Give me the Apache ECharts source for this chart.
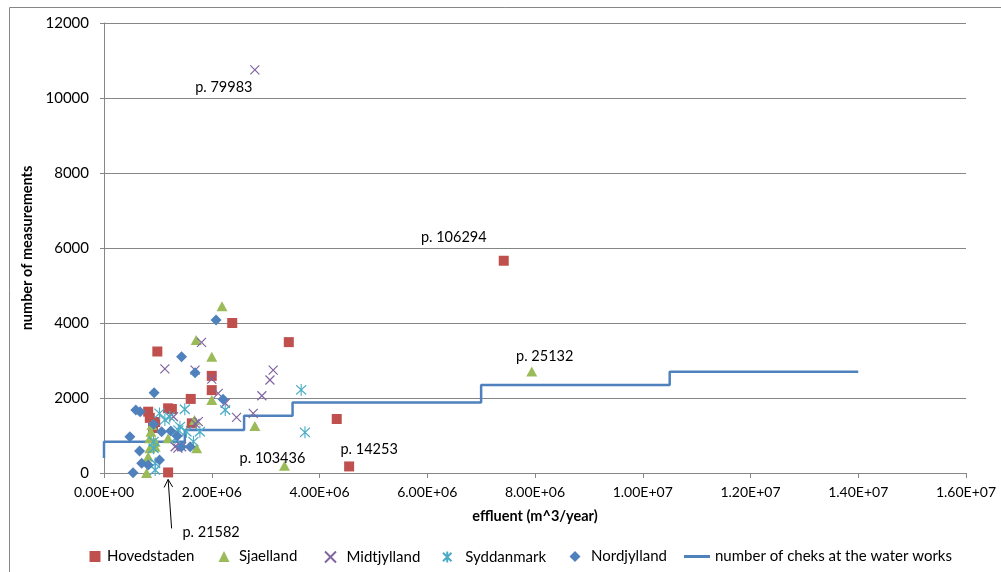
<!DOCTYPE html>
<html>
<head>
<meta charset="utf-8">
<script src="https://cdn.jsdelivr.net/npm/echarts@6/dist/echarts.min.js"></script>
<style>
  html, body { margin: 0; padding: 0; background: #ffffff; }
  #chart { width: 1001px; height: 572px; }
</style>
</head>
<body>
<div id="chart"></div>
<script>
// Water works by region: yearly effluent (m^3/year) vs. number of measurements
const hovedstaden = [
  [7.42e6, 5660], [2.38e6, 4000], [3.43e6, 3490], [4.32e6, 1440], [4.55e6, 175],
  [0.99e6, 3240], [2.00e6, 2590], [2.00e6, 2210], [1.61e6, 1975], [1.19e6, 15],
  [0.82e6, 1635], [1.19e6, 1725], [1.26e6, 1705], [0.95e6, 1360], [0.91e6, 1200],
  [1.63e6, 1325], [0.85e6, 1470]
];
const sjaelland = [
  [7.94e6, 2710], [2.19e6, 4450], [1.71e6, 3550], [2.00e6, 3100], [2.00e6, 1950],
  [2.80e6, 1255], [3.35e6, 195], [1.68e6, 1415], [1.72e6, 660], [0.79e6, 0],
  [0.82e6, 435], [0.85e6, 660], [0.95e6, 835], [0.85e6, 925], [0.87e6, 1100],
  [1.19e6, 925], [0.89e6, 1280], [0.95e6, 700]
];
const midtjylland = [
  [2.80e6, 10750], [1.81e6, 3485], [1.13e6, 2775], [1.69e6, 2745], [2.00e6, 2505],
  [3.14e6, 2745], [3.08e6, 2480], [2.93e6, 2060], [2.12e6, 2125], [2.25e6, 1860],
  [2.77e6, 1590], [2.46e6, 1485], [1.69e6, 1325], [1.32e6, 700], [1.44e6, 700],
  [1.29e6, 1500], [1.75e6, 1370], [1.37e6, 665]
];
const syddanmark = [
  [3.66e6, 2215], [3.73e6, 1085], [2.25e6, 1680], [1.50e6, 1700], [1.03e6, 1590],
  [1.13e6, 1415], [1.22e6, 1500], [1.41e6, 1235], [1.53e6, 1100], [1.78e6, 1100],
  [1.66e6, 835], [0.92e6, 835], [0.92e6, 660], [0.95e6, 260], [0.95e6, 80],
  [1.32e6, 925], [1.38e6, 1145]
];
const nordjylland = [
  [2.08e6, 4080], [1.44e6, 3100], [1.69e6, 2675], [0.93e6, 2140], [2.21e6, 1965],
  [0.59e6, 1680], [0.67e6, 1635], [0.48e6, 970], [0.66e6, 585], [0.70e6, 260],
  [0.54e6, 10], [0.82e6, 215], [1.03e6, 345], [0.92e6, 1300], [1.07e6, 1100],
  [1.24e6, 1120], [1.36e6, 985], [1.44e6, 700], [1.60e6, 700]
];
// number of checks required at the water works, stepping up with effluent
const checkSteps = [
  [0, 400], [0, 835], [1.5e6, 835], [1.5e6, 1150], [2.6e6, 1150], [2.6e6, 1530],
  [3.5e6, 1530], [3.5e6, 1880], [7.0e6, 1880], [7.0e6, 2350], [1.05e7, 2350],
  [1.05e7, 2700], [1.4e7, 2700]
];
const xTickLabels = ['0.00E+00', '2.00E+06', '4.00E+06', '6.00E+06', '8.00E+06',
  '1.00E+07', '1.20E+07', '1.40E+07', '1.60E+07'];
const yTickLabels = ['0', '2000', '4000', '6000', '8000', '10000', '12000'];
const seriesNames = ['Hovedstaden', 'Sjaelland', 'Midtjylland', 'Syddanmark', 'Nordjylland',
  'number of cheks at the water works'];
// plant ids written next to selected points: [series, point index, text]
const plantNotes = [
  ['Midtjylland', 0, 'p. 79983'],
  ['Hovedstaden', 0, 'p. 106294'],
  ['Sjaelland', 0, 'p. 25132'],
  ['Sjaelland', 6, 'p. 103436'],
  ['Hovedstaden', 4, 'p. 14253'],
  ['Hovedstaden', 9, 'p. 21582']
];

const FONT = 'Lato';
const noteOffsets = {
  'p. 79983': [-31, 17], 'p. 106294': [-50, -23], 'p. 25132': [13, -15],
  'p. 103436': [-12, -7], 'p. 14253': [20, -17], 'p. 21582': [43, 60]
};

function withNotes(name, pts) {
  return pts.map((p, i) => {
    const note = plantNotes.find(n => n[0] === name && n[1] === i);
    if (!note) return p;
    return {
      value: p,
      label: {
        show: true, formatter: note[2], position: 'inside',
        offset: noteOffsets[note[2]], align: 'center', verticalAlign: 'middle',
        color: '#000', fontFamily: FONT, fontSize: 14.5
      }
    };
  });
}

const X_PATH = 'path://M0,0L10,10M10,0L0,10';
const STAR_PATH = 'path://M0,0L10,10M10,0L0,10M5,-1.5L5,11.5';

const chart = echarts.init(document.getElementById('chart'), null, { renderer: 'canvas' });

function legendFor(name, left, pad, isLine) {
  return {
    data: [isLine ? { name: name, icon: 'rect' } : name],
    left: left, top: 544,
    itemWidth: isLine ? 26 : 11, itemHeight: isLine ? 3 : 11,
    textStyle: { fontFamily: FONT, fontSize: 15, color: '#000', padding: [0, 0, 0, pad] },
    selectedMode: false
  };
}

const option = {
  animation: false,
  backgroundColor: '#fff',
  textStyle: { fontFamily: FONT },
  grid: { left: 104, right: 35, top: 23, bottom: 99 },
  xAxis: {
    type: 'value', min: 0, max: 1.6e7, interval: 2e6,
    name: 'effluent (m^3/year)', nameLocation: 'middle', nameGap: 36,
    nameTextStyle: { fontFamily: FONT, fontSize: 14.5, fontWeight: 'bold', color: '#000' },
    axisLine: { lineStyle: { color: '#868686' } },
    axisTick: { show: true, length: 5, lineStyle: { color: '#868686' } },
    axisLabel: { margin: 12, fontFamily: FONT, fontSize: 14, color: '#000',
      formatter: v => xTickLabels[Math.round(v / 2e6)] },
    splitLine: { show: false }
  },
  yAxis: {
    type: 'value', min: 0, max: 12000, interval: 2000,
    name: 'number of measurements', nameLocation: 'middle', nameGap: 60, nameRotate: 90,
    nameTextStyle: { fontFamily: FONT, fontSize: 14.5, fontWeight: 'bold', color: '#000' },
    axisLine: { show: true, lineStyle: { color: '#868686' } },
    axisTick: { show: true, length: 4, lineStyle: { color: '#868686' } },
    axisLabel: { margin: 15, fontFamily: FONT, fontSize: 15, color: '#000',
      formatter: v => yTickLabels[Math.round(v / 2000)] },
    splitLine: { show: true, lineStyle: { color: '#868686', width: 1 } }
  },
  legend: [
    legendFor(seriesNames[0], 84.5, 1.5),
    legendFor(seriesNames[1], 213.5, 4.5),
    legendFor(seriesNames[2], 317.5, 5.5),
    legendFor(seriesNames[3], 435.5, 7.5),
    legendFor(seriesNames[4], 564.5, 5.5),
    legendFor(seriesNames[5], 679, 0, true)
  ],
  series: [
    { name: seriesNames[0], type: 'scatter', symbol: 'rect', symbolSize: 10,
      itemStyle: { color: '#C0504D', opacity: 1 }, data: withNotes('Hovedstaden', hovedstaden) },
    { name: seriesNames[1], type: 'scatter', symbol: 'triangle', symbolSize: [11, 10],
      itemStyle: { color: '#9BBB59', opacity: 1 }, data: withNotes('Sjaelland', sjaelland) },
    { name: seriesNames[2], type: 'scatter', symbol: X_PATH, symbolSize: 9,
      itemStyle: { color: 'none', borderColor: '#8064A2', borderWidth: 1.2, opacity: 1 },
      data: withNotes('Midtjylland', midtjylland) },
    { name: seriesNames[3], type: 'scatter', symbol: STAR_PATH, symbolSize: [10, 12],
      itemStyle: { color: 'none', borderColor: '#4BACC6', borderWidth: 1.2, opacity: 1 },
      data: withNotes('Syddanmark', syddanmark) },
    { name: seriesNames[4], type: 'scatter', symbol: 'diamond', symbolSize: 11,
      itemStyle: { color: '#4F81BD', opacity: 1 }, data: withNotes('Nordjylland', nordjylland) },
    { name: seriesNames[5], type: 'line', symbol: 'none', showSymbol: false,
      lineStyle: { color: '#4F81BD', width: 2.5 }, itemStyle: { color: '#4F81BD' },
      data: checkSteps, z: 1 }
  ],
  graphic: [
    { id: 'frame', type: 'rect', silent: true, z: -10,
      shape: { x: 9.5, y: 7.5, width: 1200, height: 700 },
      style: { fill: 'none', stroke: '#868686', lineWidth: 1 } }
  ]
};

chart.setOption(option);

// arrow pointing at the p. 21582 plant from its label below the axis
const target = hovedstaden[plantNotes[5][1]];
const tip = chart.convertToPixel({ seriesIndex: 0 }, target);
const tx = tip[0], ty = tip[1] + 7;
chart.setOption({
  graphic: [
    { id: 'frame' },
    { id: 'arrowShaft', type: 'line', silent: true,
      shape: { x1: tx + 3.5, y1: ty + 49, x2: tx, y2: ty },
      style: { stroke: '#000', lineWidth: 1 } },
    { id: 'arrowHead', type: 'polyline', silent: true,
      shape: { points: [[tx - 4, ty + 8], [tx, ty], [tx + 4.5, ty + 7.5]] },
      style: { stroke: '#000', fill: 'none', lineWidth: 1 } }
  ]
});
</script>
</body>
</html>
